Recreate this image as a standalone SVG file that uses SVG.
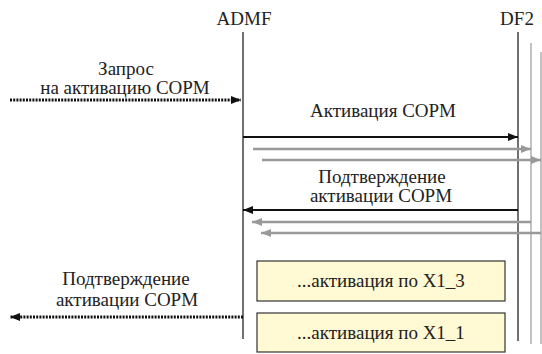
<svg xmlns="http://www.w3.org/2000/svg" width="542" height="354" viewBox="0 0 542 354">
<defs>
<style>
text{font-family:"Liberation Serif","Times New Roman",Tinos,"DejaVu Serif",serif;font-size:19px;fill:#222;text-anchor:middle}
.life{stroke:#111;stroke-width:1.2;fill:none}
.glife{stroke:#999;stroke-width:1.2;fill:none}
.blk{stroke:#111;stroke-width:2.2;fill:none}
.gry{stroke:#999;stroke-width:2.5;fill:none}
.dot{stroke:#111;stroke-width:3;stroke-dasharray:2 1.2;fill:none}
.box{fill:#FFF9D4;stroke:#333;stroke-width:1.2}
</style>
<marker id="ab" viewBox="0 0 10 8" refX="10" refY="4" markerWidth="10" markerHeight="8" markerUnits="userSpaceOnUse" orient="auto"><path d="M0,0 L10,4 L0,8 z" fill="#111"/></marker>
<marker id="ag" viewBox="0 0 10 8" refX="10" refY="4" markerWidth="10" markerHeight="8" markerUnits="userSpaceOnUse" orient="auto"><path d="M0,0 L10,4 L0,8 z" fill="#999"/></marker>
</defs>
<g id="ADMF">
<text x="244" y="25">ADMF</text>
<line class="life" x1="243" y1="32" x2="243" y2="339"/>
</g>
<g id="DF2">
<text x="517" y="25">DF2</text>
<line class="life" x1="518" y1="32" x2="518" y2="341"/>
<line class="glife" x1="531" y1="43" x2="531" y2="344"/>
<line class="glife" x1="541" y1="52" x2="541" y2="344"/>
</g>
<g id="box1">
<rect class="box" x="257" y="261" width="248" height="40"/>
<text x="381" y="287">...активация по X1_3</text>
</g>
<g id="box2">
<rect class="box" x="257" y="313" width="248" height="39"/>
<text x="381" y="339">...активация по X1_1</text>
</g>
<g id="connectors">
<line class="dot" x1="10" y1="100" x2="241" y2="100" marker-end="url(#ab)"/>
<line class="blk" x1="243" y1="137" x2="518" y2="137" marker-end="url(#ab)"/>
<line class="gry" x1="253" y1="149" x2="531" y2="149" marker-end="url(#ag)"/>
<line class="gry" x1="262" y1="160" x2="541" y2="160" marker-end="url(#ag)"/>
<line class="blk" x1="518" y1="210" x2="243" y2="210" marker-end="url(#ab)"/>
<line class="gry" x1="531" y1="222" x2="252" y2="222" marker-end="url(#ag)"/>
<line class="gry" x1="541" y1="233" x2="261" y2="233" marker-end="url(#ag)"/>
<line class="dot" x1="243" y1="317" x2="10" y2="317" marker-end="url(#ab)"/>
</g>
<g id="labels">
<text x="126" y="75">Запрос</text>
<text x="125" y="94">на активацию СОРМ</text>
<text x="383" y="117">Активация СОРМ</text>
<text x="382" y="183">Подтверждение</text>
<text x="381" y="202">активации СОРМ</text>
<text x="126" y="285">Подтверждение</text>
<text x="127" y="306">активации СОРМ</text>
</g>
</svg>
